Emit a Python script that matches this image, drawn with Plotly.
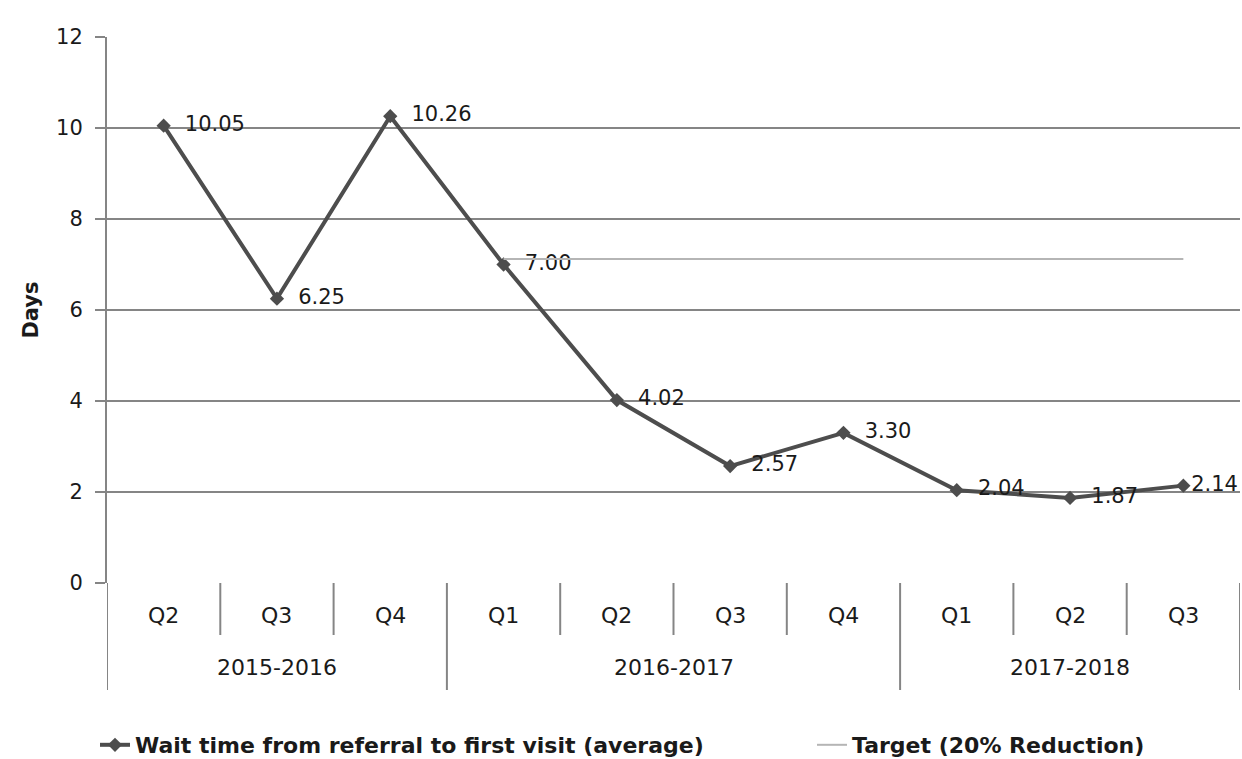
import plotly.graph_objects as go

years = ["2015-2016", "2016-2017", "2017-2018"]
year_sizes = [3, 4, 3]
quarters = ["Q2", "Q3", "Q4", "Q1", "Q2", "Q3", "Q4", "Q1", "Q2", "Q3"]
wait_days = [10.05, 6.25, 10.26, 7.00, 4.02, 2.57, 3.30, 2.04, 1.87, 2.14]
target_start = 3  # Q1 2016-2017
target_days = 7.12
y_ticks = [0, 2, 4, 6, 8, 10, 12]

FONT = "DejaVu Sans, Verdana, sans-serif"
GRID = "#858585"
INK = "#1a1a1a"

xs = list(range(len(quarters)))
H = 759 - 37 - 176  # plot height in px

labels = []
for i, v in enumerate(wait_days):
    pad = "" if i == len(wait_days) - 1 else "\u00a0\u00a0"
    labels.append(pad + f"{v:.2f}")

fig = go.Figure()
fig.add_trace(go.Scatter(
    x=xs, y=wait_days,
    mode="lines+markers+text",
    name="<b>Wait time from referral to first visit (average)</b>",
    line=dict(color="#4d4d4d", width=4),
    marker=dict(symbol="diamond", size=11, color="#4d4d4d"),
    text=labels,
    textposition="middle right",
    textfont=dict(size=21, color=INK, family=FONT),
    cliponaxis=False,
    legend="legend",
))
fig.add_trace(go.Scatter(
    x=xs[target_start:], y=[target_days] * len(xs[target_start:]),
    mode="lines",
    name="<b>Target (20% Reduction)</b>",
    line=dict(color="#b5b5b5", width=2),
    legend="legend2",
))

shapes = []
annotations = []
for i, q in enumerate(quarters):
    annotations.append(dict(x=i, y=-32 / H, xref="x", yref="paper", text=q, showarrow=False,
                            font=dict(size=22, family=FONT, color=INK), yanchor="middle"))
group_edges = [-0.5]
acc = -0.5
for s in year_sizes:
    acc += s
    group_edges.append(acc)
for b in [i - 0.5 for i in range(len(quarters) + 1)]:
    long = b in group_edges
    shapes.append(dict(type="line", xref="x", yref="paper", x0=b, x1=b, y0=0,
                       y1=-(107 if long else 52) / H, line=dict(color=GRID, width=2)))
for k, yname in enumerate(years):
    center = (group_edges[k] + group_edges[k + 1]) / 2
    annotations.append(dict(x=center, y=-85 / H, xref="x", yref="paper", text=yname, showarrow=False,
                            font=dict(size=22, family=FONT, color=INK), yanchor="middle"))

legend_common = dict(orientation="h", xref="container", yref="container",
                     xanchor="left", yanchor="middle", bgcolor="rgba(0,0,0,0)",
                     font=dict(size=22, family=FONT, color=INK), itemwidth=30)

fig.update_layout(
    width=1242, height=759,
    margin=dict(l=107, r=2, t=37, b=176),
    plot_bgcolor="white", paper_bgcolor="white",
    font=dict(family=FONT, size=22, color=INK),
    showlegend=True,
    legend=dict(x=95 / 1242, y=1 - 745 / 759, **legend_common),
    legend2=dict(x=812 / 1242, y=1 - 745 / 759, **legend_common),
    shapes=shapes,
    annotations=annotations,
    xaxis=dict(
        range=[-0.5, len(quarters) - 0.5],
        showticklabels=False, ticks="", showgrid=False, zeroline=False,
        showline=False,
    ),
    yaxis=dict(
        range=[0, 12], tickvals=y_ticks,
        showgrid=True, gridcolor=GRID, gridwidth=2,
        showline=True, linecolor=GRID, linewidth=2,
        ticks="outside", ticklen=10, tickcolor=GRID, tickwidth=2,
        ticklabelstandoff=8,
        tickfont=dict(size=21, family=FONT, color=INK),
        title=dict(text="<b>Days</b>", font=dict(size=21, family=FONT, color=INK), standoff=12),
        zeroline=False,
    ),
)

fig.write_html("out.html")
